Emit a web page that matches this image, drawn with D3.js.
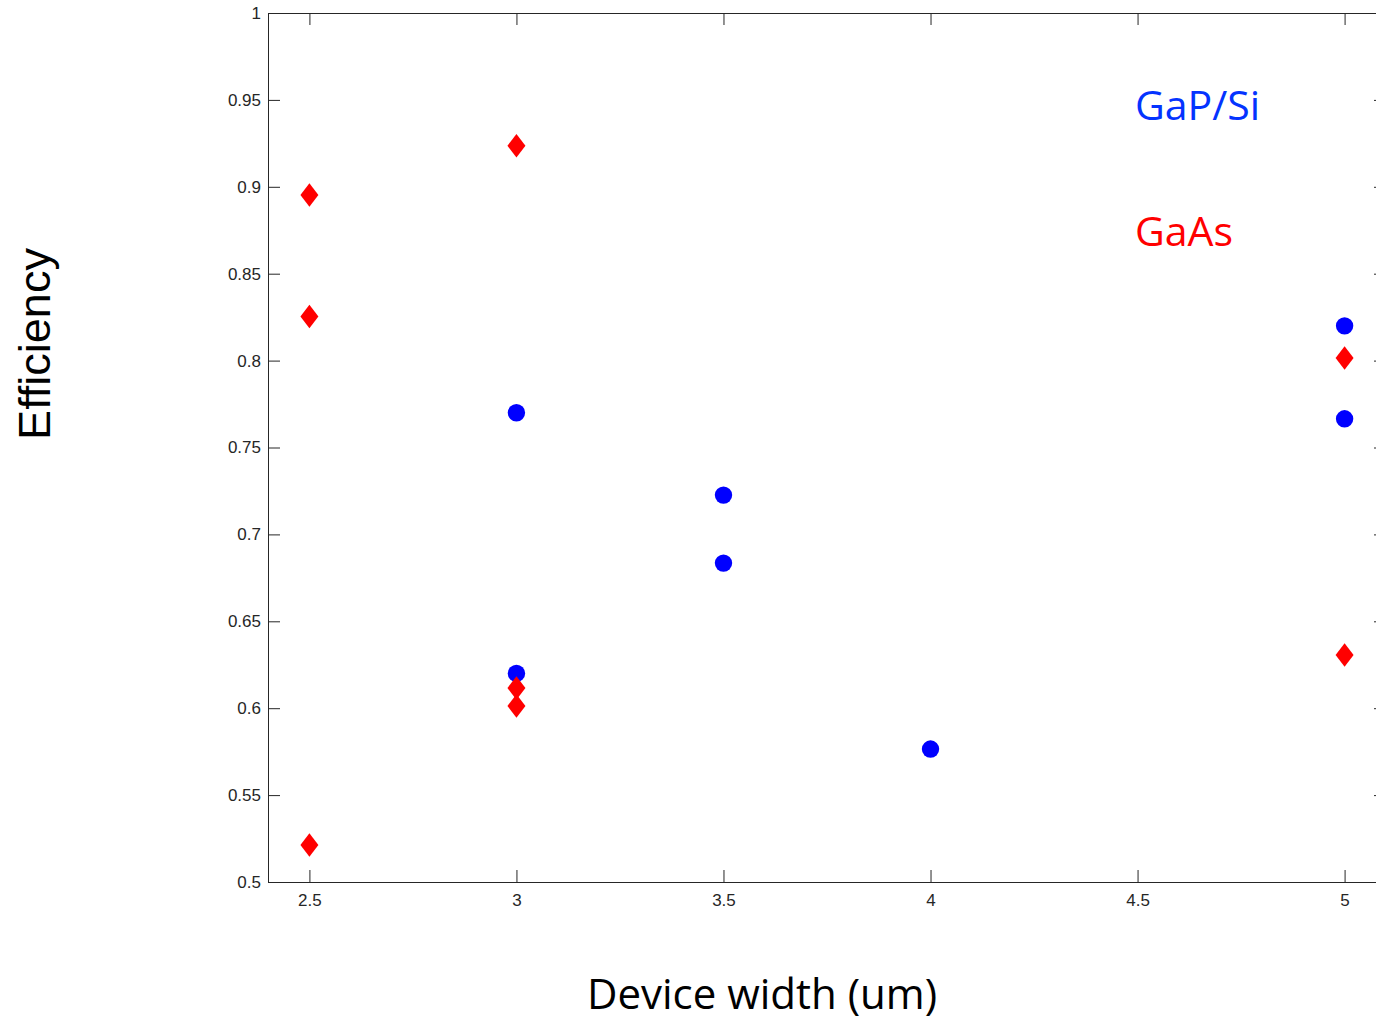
<!DOCTYPE html>
<html>
<head>
<meta charset="utf-8">
<script src="https://cdn.jsdelivr.net/npm/d3@7"></script>
<style>
  body { margin: 0; background: #fff; }
  svg { display: block; }
</style>
</head>
<body>
<script>
// data
const gapWidth = [3, 3, 3.5, 3.5, 4, 5, 5];
const gapEff   = [0.770, 0.620, 0.7226, 0.6835, 0.5765, 0.820, 0.7665];

const gaasWidth = [2.5, 2.5, 2.5, 3, 3, 3, 5, 5];
const gaasEff   = [0.8953, 0.8254, 0.5213, 0.9236, 0.6116, 0.6013, 0.8015, 0.6306];

const xTicks = [2.5, 3, 3.5, 4, 4.5, 5];
const yTicks = [0.5, 0.55, 0.6, 0.65, 0.7, 0.75, 0.8, 0.85, 0.9, 0.95, 1];

let canvasW = 1376;
let canvasH = 1020;
let margin = ({top: 13, right: -10, bottom: 138, left: 268});

let xScale = d3.scaleLinear()
  .domain([2.4, 5.1])
  .range([margin.left, canvasW - margin.right]);
let yScale = d3.scaleLinear()
  .domain([0.5, 1])
  .range([canvasH - margin.bottom, margin.top]);

let svg = d3.select("body")
  .append("svg")
    .attr("width", canvasW)
    .attr("height", canvasH);

const axisColor = "#262626";
const tickFont = "'Liberation Sans', Arial, sans-serif";

function styleAxis(g) {
  g.selectAll("path").attr("stroke", axisColor).attr("stroke-width", 1);
  g.selectAll("line").attr("stroke", axisColor).attr("stroke-width", 1);
  g.selectAll("text")
    .attr("fill", axisColor)
    .attr("font-family", tickFont)
    .attr("font-size", "17px");
}

// bottom axis
svg.append("g")
  .attr("transform", "translate(0," + yScale(0.5) + ")")
  .call(d3.axisBottom(xScale).tickValues(xTicks).tickSize(-12).tickSizeOuter(0).tickPadding(12).tickFormat(d3.format("")))
  .call(styleAxis);

// top axis, no labels
svg.append("g")
  .attr("transform", "translate(0," + yScale(1) + ")")
  .call(d3.axisTop(xScale).tickValues(xTicks).tickSize(-12).tickSizeOuter(0).tickFormat(""))
  .call(styleAxis);

// left axis
svg.append("g")
  .attr("transform", "translate(" + xScale(2.4) + ",0)")
  .call(d3.axisLeft(yScale).tickValues(yTicks).tickSize(-12).tickSizeOuter(0).tickPadding(7).tickFormat(d3.format("")))
  .call(styleAxis);

// right axis (mostly off the edge)
svg.append("g")
  .attr("transform", "translate(" + xScale(5.1) + ",0)")
  .call(d3.axisRight(yScale).tickValues(yTicks).tickSize(-12).tickSizeOuter(0).tickFormat(""))
  .call(styleAxis);

// GaP/Si points
svg.append("g")
  .selectAll("circle")
  .data(gapWidth.map((w, i) => ({w: w, e: gapEff[i]})))
  .enter()
  .append("circle")
    .attr("cx", d => xScale(d.w))
    .attr("cy", d => yScale(d.e))
    .attr("r", 8.7)
    .attr("fill", "#0000ff");

// GaAs points, tall diamonds
const dw = 9, dh = 11.8;
svg.append("g")
  .selectAll("path")
  .data(gaasWidth.map((w, i) => ({w: w, e: gaasEff[i]})))
  .enter()
  .append("path")
    .attr("d", "M0," + (-dh) + "L" + dw + ",0L0," + dh + "L" + (-dw) + ",0Z")
    .attr("transform", d => "translate(" + xScale(d.w) + "," + yScale(d.e) + ")")
    .attr("fill", "#ff0000");

// series labels
svg.append("text")
  .attr("x", 1135)
  .attr("y", 120)
  .attr("font-family", "'Open Sans', sans-serif")
  .attr("font-size", "41px")
  .attr("fill", "#0433ff")
  .text("GaP/Si");

svg.append("text")
  .attr("x", 1135)
  .attr("y", 246)
  .attr("font-family", "'Open Sans', sans-serif")
  .attr("font-size", "41px")
  .attr("fill", "#ff0000")
  .text("GaAs");

// axis titles
svg.append("text")
  .attr("text-anchor", "middle")
  .attr("font-family", "'Open Sans', sans-serif")
  .attr("font-size", "42px")
  .attr("fill", "#000")
  .attr("x", 762)
  .attr("y", 1009)
  .text("Device width (um)");

svg.append("text")
  .attr("text-anchor", "middle")
  .attr("font-family", "'Liberation Sans', Arial, sans-serif")
  .attr("font-size", "45px")
  .attr("fill", "#000")
  .attr("transform", "translate(50,344) rotate(-90)")
  .text("Efficiency");
</script>
</body>
</html>
